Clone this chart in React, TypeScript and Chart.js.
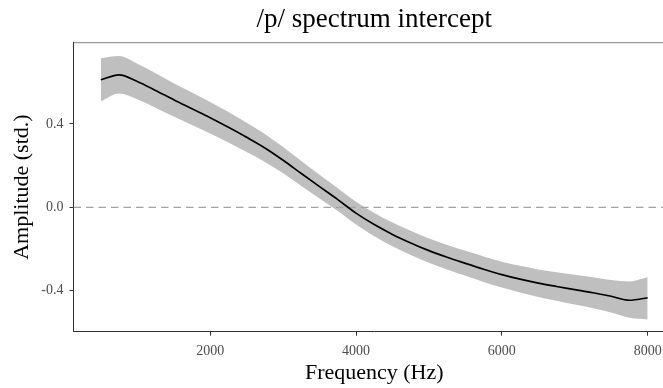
import { useEffect, useRef } from "react";
import { Chart, registerables } from "chart.js";

Chart.register(...registerables);

const FONT = "'Liberation Serif', 'Times New Roman', serif";

const titleText = "/p/ spectrum intercept";
const xTitle = "Frequency (Hz)";
const yTitle = "Amplitude (std.)";

const freqHz = [
  500, 750, 1000, 1250, 1500, 1750, 2000, 2250, 2500, 2750, 3000, 3250, 3500, 3750, 4000, 4250,
  4500, 4750, 5000, 5250, 5500, 5750, 6000, 6250, 6500, 6750, 7000, 7250, 7500, 7750, 8000,
];
const meanAmp = [
  0.612, 0.636, 0.604, 0.561, 0.516, 0.473, 0.43, 0.384, 0.336, 0.285, 0.226, 0.162, 0.099, 0.037,
  -0.028, -0.083, -0.13, -0.171, -0.208, -0.24, -0.269, -0.297, -0.323, -0.345, -0.364, -0.38,
  -0.395, -0.41, -0.427, -0.446, -0.434,
];
const upperAmp = [
  0.715, 0.726, 0.689, 0.644, 0.596, 0.551, 0.506, 0.457, 0.406, 0.352, 0.289, 0.222, 0.156, 0.092,
  0.027, -0.027, -0.073, -0.113, -0.15, -0.181, -0.209, -0.236, -0.261, -0.281, -0.298, -0.312,
  -0.324, -0.336, -0.349, -0.356, -0.336,
];
const lowerAmp = [
  0.509, 0.546, 0.519, 0.478, 0.436, 0.395, 0.354, 0.311, 0.266, 0.218, 0.163, 0.102, 0.042, -0.018,
  -0.083, -0.139, -0.187, -0.229, -0.266, -0.299, -0.329, -0.358, -0.385, -0.409, -0.43, -0.448,
  -0.466, -0.484, -0.505, -0.53, -0.538,
];

const xTicks = [2000, 4000, 6000, 8000];
const yTicks = [-0.4, 0, 0.4];
const xLimits = [125, 8375];
const yLimits = [-0.597, 0.791];
const zeroRefX = [125, 8375];
const zeroRefY = [0, 0];

export default function App() {
  const ref = useRef<HTMLCanvasElement>(null);

  useEffect(() => {
    const canvas = ref.current;
    if (!canvas) return;
    const pts = (xs: number[], ys: number[]) => xs.map((x, i) => ({ x, y: ys[i] }));
    const chart = new Chart(canvas, {
      type: "line",
      data: {
        datasets: [
          {
            label: "mean",
            data: pts(freqHz, meanAmp),
            borderColor: "#000000",
            borderWidth: 1.7,
            pointRadius: 0,
            cubicInterpolationMode: "monotone",
            fill: false,
            order: 0,
          },
          {
            label: "zero",
            data: pts(zeroRefX, zeroRefY),
            borderColor: "#a3a3a3",
            borderWidth: 1.3,
            borderDash: [7.5, 5],
            pointRadius: 0,
            fill: false,
            order: 1,
          },
          {
            label: "upper",
            data: pts(freqHz, upperAmp),
            borderWidth: 0,
            borderColor: "rgba(0,0,0,0)",
            backgroundColor: "#bfbfbf",
            pointRadius: 0,
            cubicInterpolationMode: "monotone",
            fill: "+1",
            order: 2,
          },
          {
            label: "lower",
            data: pts(freqHz, lowerAmp),
            borderWidth: 0,
            borderColor: "rgba(0,0,0,0)",
            pointRadius: 0,
            cubicInterpolationMode: "monotone",
            fill: false,
            order: 3,
          },
        ],
      },
      options: {
        responsive: false,
        maintainAspectRatio: false,
        devicePixelRatio: 1,
        animation: false,
        layout: { padding: { left: 0, top: 0, bottom: 0, right: 25 } },
        plugins: {
          legend: { display: false },
          tooltip: { enabled: false },
          title: { display: false },
        },
        scales: {
          x: {
            type: "linear",
            position: "bottom",
            min: xLimits[0],
            max: xLimits[1],
            afterBuildTicks: (s: any) => {
              s.ticks = xTicks.map((v) => ({ value: v }));
            },
            afterFit: (s: any) => {
              s.height = 56.3;
            },
            ticks: {
              color: "#4d4d4d",
              font: { family: FONT, size: 14 },
              padding: 7,
              maxRotation: 0,
              callback: (v: any) => String(v),
            },
            grid: {
              display: true,
              drawOnChartArea: false,
              drawTicks: true,
              tickLength: 4,
              tickColor: "#333333",
              tickWidth: 1,
              color: "#333333",
            },
            border: { display: true, color: "#333333", width: 1 },
            title: {
              display: true,
              text: xTitle,
              color: "#000000",
              font: { family: FONT, size: 22 },
              padding: { top: 0, bottom: 2 },
            },
          },
          xTop: {
            type: "linear",
            position: "top",
            min: xLimits[0],
            max: xLimits[1],
            afterFit: (s: any) => {
              s.height = 42.5;
            },
            ticks: { display: false },
            grid: { display: false },
            border: { display: true, color: "#9a9a9a", width: 1.3 },
            title: {
              display: true,
              text: titleText,
              color: "#000000",
              font: { family: FONT, size: 27 },
              padding: { top: 4, bottom: 0 },
            },
          },
          y: {
            type: "linear",
            position: "left",
            min: yLimits[0],
            max: yLimits[1],
            afterBuildTicks: (s: any) => {
              s.ticks = yTicks.map((v) => ({ value: v }));
            },
            afterFit: (s: any) => {
              s.width = 73.5;
            },
            ticks: {
              color: "#4d4d4d",
              font: { family: FONT, size: 14 },
              padding: 6,
              callback: (v: any) => Number(v).toFixed(1),
            },
            grid: {
              display: true,
              drawOnChartArea: false,
              drawTicks: true,
              tickLength: 4,
              tickColor: "#333333",
              tickWidth: 1,
              color: "#333333",
            },
            border: { display: true, color: "#333333", width: 1 },
            title: {
              display: true,
              text: yTitle,
              color: "#000000",
              font: { family: FONT, size: 22 },
              padding: { top: 9, bottom: 0 },
            },
          },
        },
      },
    } as any);
    return () => chart.destroy();
  }, []);

  return (
    <div
      style={{
        position: "fixed",
        left: 0,
        top: 0,
        width: 663,
        height: 388,
        overflow: "hidden",
        background: "#ffffff",
      }}
    >
      <canvas ref={ref} width={700} height={388} style={{ display: "block", width: 700, height: 388 }} />
    </div>
  );
}
